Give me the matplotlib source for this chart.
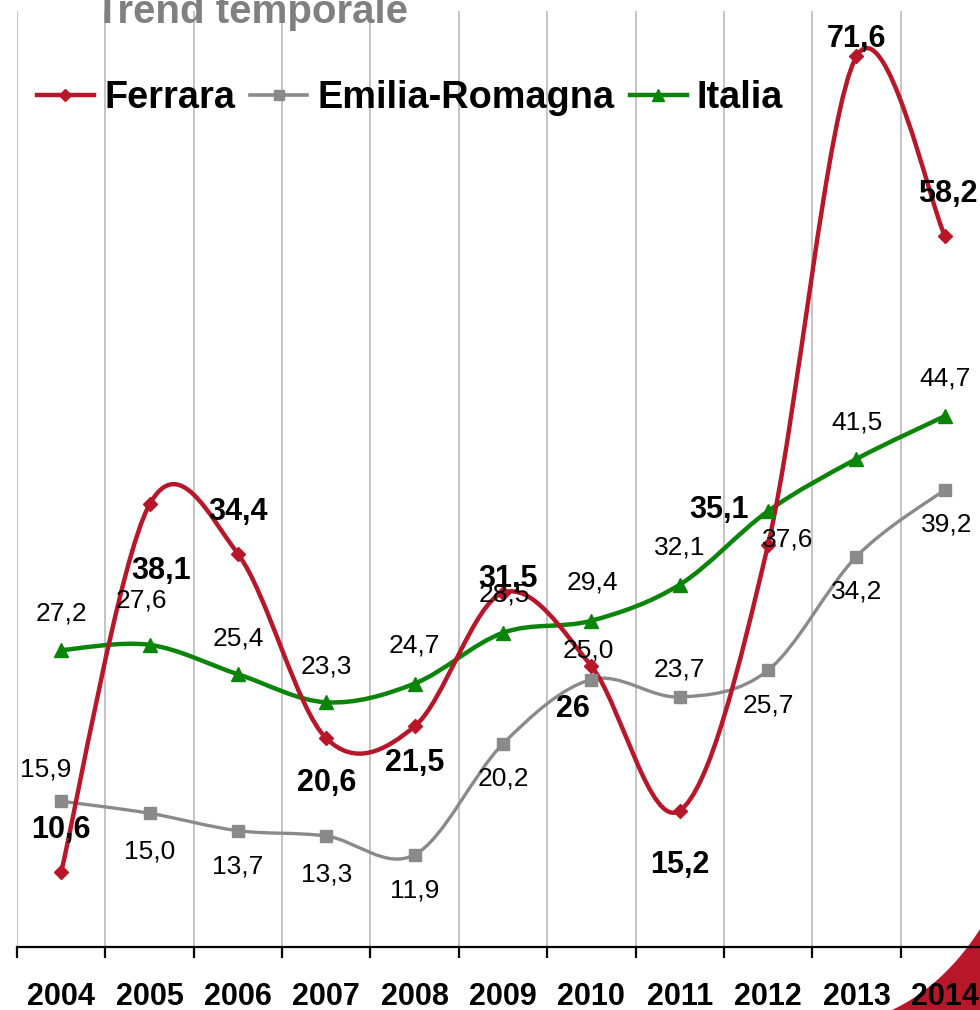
import matplotlib
matplotlib.use("Agg")
import matplotlib.pyplot as plt
import numpy as np
from matplotlib.path import Path
from matplotlib.patches import PathPatch, Polygon
from matplotlib.lines import Line2D

plt.rcParams['font.family'] = ['Liberation Sans', 'DejaVu Sans']

years = ['2004', '2005', '2006', '2007', '2008', '2009', '2010', '2011', '2012', '2013', '2014']
ferrara = [10.6, 38.1, 34.4, 20.6, 21.5, 31.5, 26.0, 15.2, 35.1, 71.6, 58.2]
emilia = [15.9, 15.0, 13.7, 13.3, 11.9, 20.2, 25.0, 23.7, 25.7, 34.2, 39.2]
italia = [27.2, 27.6, 25.4, 23.3, 24.7, 28.5, 29.4, 32.1, 37.6, 41.5, 44.7]
ferrara_labels = ['10,6', '38,1', '34,4', '20,6', '21,5', '31,5', '26', '15,2', '35,1', '71,6', '58,2']
emilia_labels = ['15,9', '15,0', '13,7', '13,3', '11,9', '20,2', '25,0', '23,7', '25,7', '34,2', '39,2']
italia_labels = ['27,2', '27,6', '25,4', '23,3', '24,7', '28,5', '29,4', '32,1', '37,6', '41,5', '44,7']

# label offsets in pixels (dx, dy)
ferrara_off = [(0, 42), (12, -67), (0, 42), (0, -45), (0, -37), (5, 14), (-18, -43), (0, -54), (-49, 35), (0, 17), (3, 42)]
emilia_off = [(-15, 32), (0, -38), (0, -36), (0, -38), (0, -36), (0, -35), (-3, 29), (0, 27), (0, -35), (0, -35), (2, -35)]
italia_off = [(0, 37), (-8, 44), (0, 36), (0, 36), (0, 38), (1, 38), (1, 38), (0, 37), (20, -28), (1, 36), (0, 38)]

RED = '#B8172A'
GRAY = '#8A8A8A'
GREEN = '#0A850A'

W, H = 980, 1010
fig = plt.figure(figsize=(W / 100, H / 100), dpi=100)
left, right, top, bottom = 17, 989, 11, 947
ax = fig.add_axes([left / W, 1 - bottom / H, (right - left) / W, (bottom - top) / H])
ax.patch.set_facecolor('none')
ax.set_xlim(-0.5, len(years) - 0.5)
ax.set_ylim(5, 75)

for s in ['left', 'right', 'top']:
    ax.spines[s].set_visible(False)
ax.spines['bottom'].set_linewidth(1.6)
ax.set_yticks([])
ax.set_xticks(np.arange(-0.5, len(years), 1.0))
ax.set_xticklabels([])
ax.tick_params(axis='x', which='major', length=8, width=1.6, direction='out')
ax.set_xticks(np.arange(len(years)), minor=True)
ax.set_xticklabels(years, minor=True, fontsize=22, fontweight='bold')
ax.tick_params(axis='x', which='minor', length=0, pad=25)
ax.grid(True, axis='x', which='major', color='#C4C4C4', linewidth=1.4)
ax.set_axisbelow(True)


def smooth_path(xs, ys):
    pts = np.column_stack([xs, ys]).astype(float)
    n = len(pts)
    verts = [pts[0]]
    codes = [Path.MOVETO]
    for i in range(n - 1):
        p0 = pts[i - 1] if i > 0 else pts[i]
        p1 = pts[i]
        p2 = pts[i + 1]
        p3 = pts[i + 2] if i + 2 < n else pts[i + 1]
        c1 = p1 + (p2 - p0) / 6.0
        c2 = p2 - (p3 - p1) / 6.0
        verts += [c1, c2, p2]
        codes += [Path.CURVE4] * 3
    return Path(verts, codes)


x = np.arange(len(years))
series = [
    (emilia, GRAY, 2.4, 's', 8, emilia_labels, emilia_off, 'normal', 19, 'Emilia-Romagna'),
    (italia, GREEN, 3.2, '^', 10, italia_labels, italia_off, 'normal', 19, 'Italia'),
    (ferrara, RED, 3.2, 'D', 7, ferrara_labels, ferrara_off, 'bold', 22, 'Ferrara'),
]
for vals, col, lw, mk, ms, labs, offs, fw, fs, name in series:
    p = smooth_path(x, vals)
    ax.add_patch(PathPatch(p, facecolor='none', edgecolor=col, linewidth=lw, zorder=3, capstyle='round'))
    ax.plot(x, vals, linestyle='none', marker=mk, markersize=ms, color=col, zorder=4)

for vals, col, lw, mk, ms, labs, offs, fw, fs, name in series:
    for xi, v, lab, off in zip(x, vals, labs, offs):
        ax.annotate(lab, (xi, v), xytext=off, textcoords='offset pixels',
                    ha='center', va='center', fontsize=fs, fontweight=fw,
                    color='black', zorder=6, annotation_clip=False)

handles = [
    Line2D([], [], color=RED, linewidth=3.2, marker='D', markersize=6),
    Line2D([], [], color=GRAY, linewidth=2.6, marker='s', markersize=7),
    Line2D([], [], color=GREEN, linewidth=3.2, marker='^', markersize=8),
]
leg = fig.legend(handles, ['Ferrara', 'Emilia-Romagna', 'Italia'], loc='center left',
                 bbox_to_anchor=(37 / W, 1 - 98 / H), ncol=3, frameon=False,
                 prop={'size': 27.3, 'weight': 'bold'}, handlelength=1.5,
                 handletextpad=0.27, columnspacing=0.4, borderpad=0, borderaxespad=0)

fig.text(95 / W, 1 - 23 / H, 'Trend temporale', ha='left', va='baseline',
         fontsize=29, fontweight='bold', color='#808080')

# decorative corner
tt = np.linspace(0, 1, 30)
p0 = np.array([892, 1010]); pc = np.array([945, 985]); p1 = np.array([982, 926])
curve = [(1 - t) ** 2 * p0 + 2 * (1 - t) * t * pc + t ** 2 * p1 for t in tt]
poly = [(px / W, 1 - py / H) for px, py in curve] + [(1.0, 0.0)]
fig.patches.append(Polygon(poly, closed=True, transform=fig.transFigure,
                           facecolor=RED, edgecolor='none', zorder=-1))

fig.savefig('out.png', dpi=100)
